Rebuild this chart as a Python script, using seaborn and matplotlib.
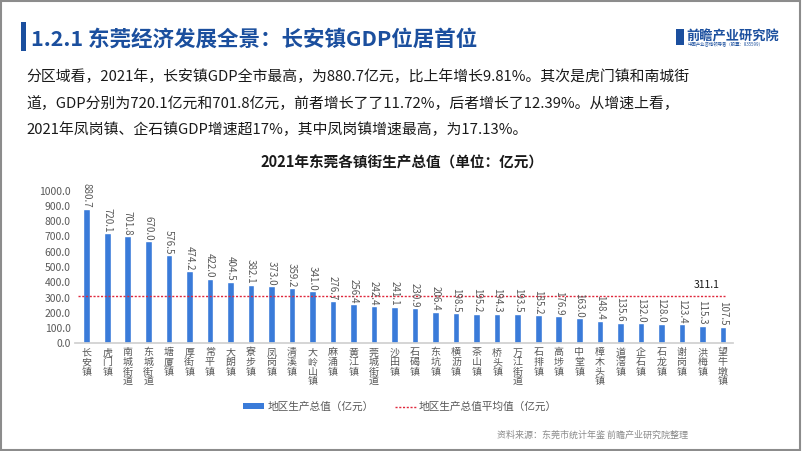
import matplotlib
matplotlib.use("Agg")
import matplotlib.pyplot as plt
import seaborn as sns
import pandas as pd
from matplotlib.patches import Rectangle, Patch
from matplotlib.lines import Line2D

towns = ["长安镇", "虎门镇", "南城街道", "东城街道", "塘厦镇", "厚街镇", "常平镇", "大朗镇",
         "寮步镇", "凤岗镇", "清溪镇", "大岭山镇", "麻涌镇", "黄江镇", "莞城街道", "沙田镇",
         "石碣镇", "东坑镇", "横沥镇", "茶山镇", "桥头镇", "万江街道", "石排镇", "高埗镇",
         "中堂镇", "樟木头镇", "道滘镇", "企石镇", "石龙镇", "谢岗镇", "洪梅镇", "望牛墩镇"]
gdp = [880.7, 720.1, 701.8, 670.0, 576.5, 474.2, 422.0, 404.5, 382.1, 373.0, 359.2, 341.0,
       276.7, 256.4, 242.4, 241.1, 230.9, 206.4, 198.5, 195.2, 194.3, 193.5, 185.2, 176.9,
       163.0, 148.4, 135.6, 132.0, 128.0, 123.4, 115.3, 107.5]
avg_gdp = 311.1
y_ticks = [0, 100, 200, 300, 400, 500, 600, 700, 800, 900, 1000]

title = "1.2.1 东莞经济发展全景：长安镇GDP位居首位"
para = ["分区域看，2021年，长安镇GDP全市最高，为880.7亿元，比上年增长9.81%。其次是虎门镇和南城街",
        "道，GDP分别为720.1亿元和701.8亿元，前者增长了了11.72%，后者增长了12.39%。从增速上看，",
        "2021年凤岗镇、企石镇GDP增速超17%，其中凤岗镇增速最高，为17.13%。"]
chart_title = "2021年东莞各镇街生产总值（单位：亿元）"
legend_labels = ["地区生产总值（亿元）", "地区生产总值平均值（亿元）"]
source = "资料来源：东莞市统计年鉴 前瞻产业研究院整理"

sns.set_theme(style="white")
plt.rcParams["font.family"] = ["Noto Sans CJK SC", "DejaVu Sans"]

BLUE = "#3a7bd9"
HEAD = "#1b4f9e"
GRAY = "#595959"
RED = "#e0283c"

W, H = 802, 451
fig = plt.figure(figsize=(W / 100, H / 100), dpi=100)
fig.patch.set_facecolor("white")

def fx(px):
    return px / W

def fy(py):
    return 1 - py / H

# frame
fig.add_artist(Rectangle((0.001, 0.002), 0.997, 0.995, transform=fig.transFigure,
                         fill=False, edgecolor="#8c8c8c", lw=1.5))
# header bar
fig.add_artist(Rectangle((fx(21), fy(51)), fx(5), 29 / H, transform=fig.transFigure,
                         color=HEAD, lw=0))
fig.text(fx(31), fy(39), title, fontsize=15.5, fontweight="bold", color=HEAD,
         va="center", ha="left")
# logo
fig.text(fx(686), fy(36), "前瞻产业研究院", fontsize=9.5, fontweight="bold", color=HEAD,
         va="center", ha="left")
fig.text(fx(688), fy(45), "中国产业咨询领导者（股票：835599）", fontsize=3.2, color=HEAD,
         va="center", ha="left")
fig.add_artist(Rectangle((fx(676), fy(45)), fx(8), 16 / H, transform=fig.transFigure,
                         color=HEAD, lw=0))

for i, line in enumerate(para):
    fig.text(fx(26), fy(77 + i * 26.5), line, fontsize=10.7, color="#1a1a1a",
             va="center", ha="left")

fig.text(fx(402), fy(163), chart_title, fontsize=10.5, fontweight="bold", color="#1a1a1a",
         va="center", ha="center")

# axes
ax_left, ax_right = 75, 733
y0, y1000 = 343.3, 190.7
ax = fig.add_axes([fx(ax_left), fy(y0), fx(ax_right - ax_left), (y0 - y1000) / H])
df = pd.DataFrame({"town": towns, "gdp": gdp})
sns.barplot(data=df, x="town", y="gdp", color=BLUE, width=0.32, saturation=1, ax=ax)
ax.set_xlim(-0.57, 31.49)
ax.set_ylim(0, 1000)
ax.set_yticks(y_ticks)
ax.set_yticklabels([f"{v:.1f}" for v in y_ticks], fontsize=7.5, color=GRAY)
ax.set_xticks(range(len(towns)))
ax.set_xticklabels(["\n".join(t) for t in towns], fontsize=7.2, color=GRAY,
                   linespacing=0.95, va="top")
ax.tick_params(axis="both", length=0, pad=3)
ax.set_xlabel("")
ax.set_ylabel("")
for s in ["top", "right", "left"]:
    ax.spines[s].set_visible(False)
ax.spines["bottom"].set_color("#d0d0d0")
ax.set_facecolor("none")
ax.grid(False)

for i, v in enumerate(gdp):
    ax.text(i, v + 6, f"{v:.1f}", rotation=270, ha="center", va="bottom",
            fontsize=7, color=GRAY)

ax.axhline(avg_gdp, xmin=0.005, xmax=0.988, color=RED, lw=1, linestyle=(0, (1.5, 1.2)))
ax.text(30.2, 382, f"{avg_gdp:.1f}", ha="center", va="center", fontsize=7.5, color="#1a1a1a")

handles = [Patch(facecolor=BLUE, edgecolor="none"),
           Line2D([0], [0], color=RED, lw=1, linestyle=(0, (1.5, 1.2)))]
fig.legend(handles, legend_labels, loc="center", bbox_to_anchor=(fx(400), fy(407)),
           ncol=2, frameon=False, fontsize=7.7, handlelength=2.0, handleheight=0.45,
           columnspacing=2.0, handletextpad=0.25, labelcolor=GRAY)

fig.text(fx(688), fy(435), source, fontsize=6.5, color="#8a8a8a", ha="right", va="center")

fig.savefig("out.png", dpi=100, facecolor="white")
